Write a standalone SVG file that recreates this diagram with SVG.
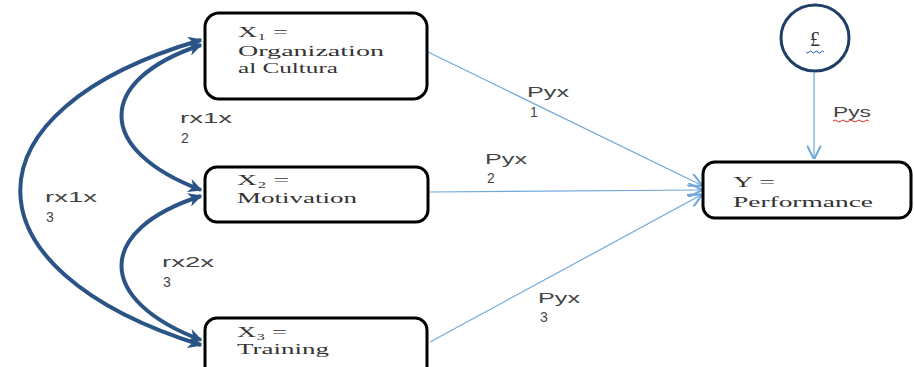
<svg xmlns="http://www.w3.org/2000/svg" width="914" height="367" viewBox="0 0 914 367">
<style>
.box{fill:#fff;stroke:#000;stroke-width:3}
.bt{font-family:"Liberation Serif",serif;font-size:14px;fill:#333}
.lb{font-family:"Liberation Sans",sans-serif;font-size:14px;fill:#444}
.thin{fill:none;stroke:#6FA8DC;stroke-width:1.2}
.thick{fill:none;stroke:#2B5486;stroke-width:4}
</style>
<defs>
<marker id="ah" viewBox="0 0 10 10" refX="9" refY="5" markerWidth="14" markerHeight="14" markerUnits="userSpaceOnUse" orient="auto">
<path d="M0,0 L10,5 L0,10" fill="none" stroke="#6FA8DC" stroke-width="1.5"/>
</marker>
<marker id="ah2" viewBox="0 0 10 10" refX="9" refY="5" markerWidth="14" markerHeight="14" markerUnits="userSpaceOnUse" orient="auto-start-reverse">
<path d="M0,0 L10,5 L0,10 L3,5 z" fill="#2B5486"/>
</marker>
</defs>
<g id="connectors">
<path class="thin" d="M428,52 L701,185" marker-end="url(#ah)"/>
<path class="thin" d="M430,192 L701,190" marker-end="url(#ah)"/>
<path class="thin" d="M430,342 L701,195" marker-end="url(#ah)"/>
<path class="thin" d="M814,73 L814,158" marker-end="url(#ah)"/>
<path class="thick" d="M201,45 C95,80 95,150 201,190" marker-start="url(#ah2)" marker-end="url(#ah2)"/>
<path class="thick" d="M201,40 C-40,110 -40,270 201,345" marker-start="url(#ah2)" marker-end="url(#ah2)"/>
<path class="thick" d="M201,196 C95,230 95,300 201,340" marker-start="url(#ah2)" marker-end="url(#ah2)"/>
<text class="lb" x="527" y="97" textLength="42" lengthAdjust="spacingAndGlyphs">Pyx</text>
<text class="lb" x="530" y="117">1</text>
<text class="lb" x="485" y="164" textLength="42" lengthAdjust="spacingAndGlyphs">Pyx</text>
<text class="lb" x="487" y="183">2</text>
<text class="lb" x="538" y="303" textLength="42" lengthAdjust="spacingAndGlyphs">Pyx</text>
<text class="lb" x="540" y="322">3</text>
<text class="lb" x="180" y="123" textLength="52" lengthAdjust="spacingAndGlyphs">rx1x</text>
<text class="lb" x="181" y="143">2</text>
<text class="lb" x="45" y="202" textLength="52" lengthAdjust="spacingAndGlyphs">rx1x</text>
<text class="lb" x="46" y="222">3</text>
<text class="lb" x="162" y="267" textLength="52" lengthAdjust="spacingAndGlyphs">rx2x</text>
<text class="lb" x="163" y="287">3</text>
<text class="lb" x="833" y="117" textLength="38" lengthAdjust="spacingAndGlyphs">Pys</text>
<path d="M833,121 q2,-2 4,0 t4,0 t4,0 t4,0 t4,0 t4,0 t4,0 t4,0 t4,0" fill="none" stroke="#E03030" stroke-width="1"/>
</g>
<g id="x1">
<rect class="box" x="205" y="13" width="222" height="86" rx="14"/>
<text class="bt" x="238" y="37" textLength="50" lengthAdjust="spacingAndGlyphs">X₁ =</text>
<text class="bt" x="238" y="56" textLength="146" lengthAdjust="spacingAndGlyphs">Organization</text>
<text class="bt" x="238" y="73" textLength="100" lengthAdjust="spacingAndGlyphs">al Cultura</text>
</g>
<g id="x2">
<rect class="box" x="205" y="167" width="223" height="55" rx="12"/>
<text class="bt" x="237" y="185" textLength="52" lengthAdjust="spacingAndGlyphs">X₂ =</text>
<text class="bt" x="237" y="203" textLength="120" lengthAdjust="spacingAndGlyphs">Motivation</text>
</g>
<g id="x3">
<rect class="box" x="205" y="318" width="222" height="60" rx="12"/>
<text class="bt" x="237" y="337" textLength="50" lengthAdjust="spacingAndGlyphs">X₃ =</text>
<text class="bt" x="237" y="354" textLength="92" lengthAdjust="spacingAndGlyphs">Training</text>
</g>
<g id="y">
<rect class="box" x="703" y="162" width="208" height="56" rx="12"/>
<text class="bt" x="733" y="187" textLength="42" lengthAdjust="spacingAndGlyphs">Y =</text>
<text class="bt" x="733" y="207" textLength="140" lengthAdjust="spacingAndGlyphs">Performance</text>
</g>
<g id="e">
<ellipse cx="815" cy="38" rx="34" ry="33" fill="#fff" stroke="#1F3F66" stroke-width="3"/>
<text class="bt" x="815" y="46" text-anchor="middle" style="font-size:20px">£</text>
<path d="M806,52 q1.5,2 3,0 t3,0 t3,0 t3,0 t3,0 t3,0" fill="none" stroke="#3050C0" stroke-width="1"/>
</g>
</svg>
